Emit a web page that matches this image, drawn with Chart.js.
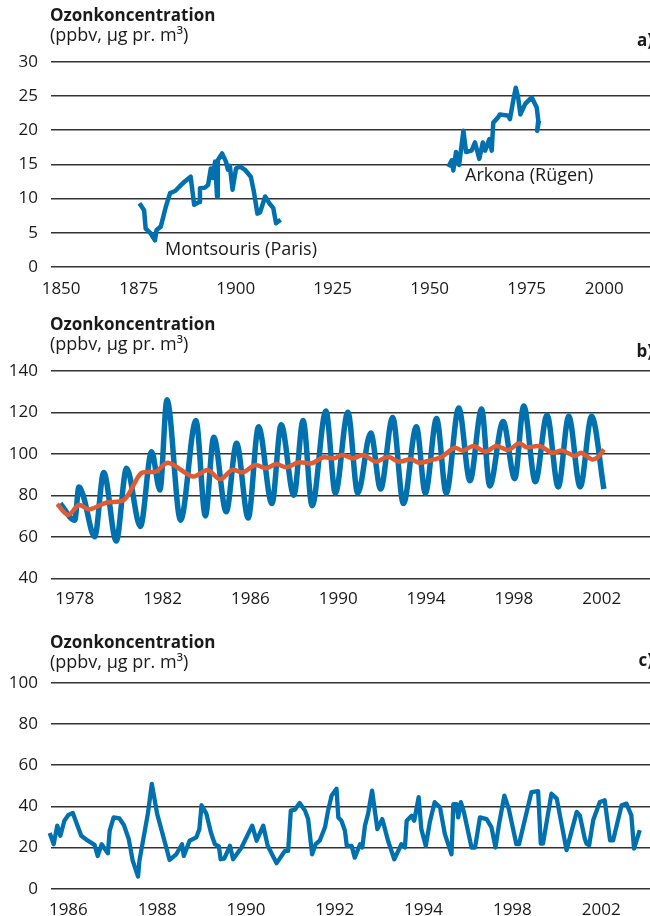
<!DOCTYPE html>
<html>
<head>
<meta charset="utf-8">
<script src="https://cdn.jsdelivr.net/npm/chart.js@4.4.1/dist/chart.umd.min.js"></script>
<style>
  body { margin: 0; background: #fff; width: 650px; height: 916px; position: relative; overflow: hidden;
         font-family: 'Open Sans', sans-serif; color: #1a1a1a; }
  canvas { position: absolute; left: 0; }
  .t { position: absolute; white-space: nowrap; line-height: 1; }
  .title { left: 50px; font-weight: bold; font-size: 17px; }
  .sub { left: 50px; font-size: 18px; }
  .tag { right: -3px; font-weight: bold; font-size: 17px; }
  .note { font-size: 18px; }
</style>
</head>
<body>
<canvas id="chartA" width="650" height="300" style="top:0"></canvas>
<canvas id="chartB" width="650" height="320" style="top:300px"></canvas>
<canvas id="chartC" width="650" height="296" style="top:620px"></canvas>

<div class="t title" style="top:6px">Ozonkoncentration</div>
<div class="t sub" style="top:25px">(ppbv, µg pr. m³)</div>
<div class="t tag" style="top:31px">a)</div>
<div class="t note" style="left:165px;top:239px">Montsouris (Paris)</div>
<div class="t note" style="left:465px;top:165px">Arkona (Rügen)</div>

<div class="t title" style="top:315px">Ozonkoncentration</div>
<div class="t sub" style="top:334px">(ppbv, µg pr. m³)</div>
<div class="t tag" style="top:342px">b)</div>

<div class="t title" style="top:633px">Ozonkoncentration</div>
<div class="t sub" style="top:652px">(ppbv, µg pr. m³)</div>
<div class="t tag" style="top:651px">c)</div>

<script>
// panel a: long records
const montsourisYears = [1875.2,1876.4,1876.8,1878.1,1879.2,1879.6,1880.7,1882.0,1883.1,1884.4,1885.6,1886.9,1888.4,1889.3,1890.6,1890.8,1892.1,1892.9,1893.6,1894.1,1894.7,1895.2,1895.4,1896.5,1897.5,1898.0,1898.5,1899.2,1900.1,1901.1,1902.4,1903.9,1904.7,1905.6,1906.3,1907.6,1908.7,1909.7,1910.4,1911.6];
const montsourisValues = [9.3,8.3,5.6,4.9,3.9,5.4,5.9,8.8,10.8,11.1,11.8,12.5,13.2,9.1,9.5,11.5,11.6,12.0,14.4,13.0,15.4,10.3,15.6,16.6,15.4,14.2,14.8,11.3,14.4,14.7,14.2,13.2,11.0,7.8,8.0,10.3,9.3,8.6,6.4,6.9];
const arkonaYears = [1954.8,1955.7,1956.1,1956.8,1957.6,1958.7,1959.4,1960.8,1961.7,1962.8,1963.7,1964.3,1965.4,1966.0,1966.4,1967.7,1968.1,1970.3,1970.7,1971.6,1972.2,1972.8,1973.4,1974.6,1976.3,1977.6,1978.0,1977.7,1978.2];
const arkonaValues = [14.6,15.6,14.1,16.8,14.9,19.9,16.8,17.0,18.2,15.8,18.2,17.0,18.7,17.0,21.1,21.9,22.3,22.1,21.6,24.5,26.2,24.8,22.3,23.8,24.8,23.3,21.4,19.9,21.4];
const xTicksA = [1850,1875,1900,1925,1950,1975,2000];

// panel b: seasonal series and running mean
const seasonalYears = [1977.34,1978.0,1978.19,1978.38,1978.91,1979.32,1979.89,1980.36,1980.99,1981.5,1981.88,1982.2,1982.82,1983.52,1983.95,1984.33,1984.9,1985.37,1985.9,1986.37,1986.98,1987.4,1987.98,1988.4,1988.81,1989.44,1989.87,1990.44,1990.89,1991.48,1991.93,1992.48,1992.97,1993.56,1993.97,1994.48,1994.92,1995.49,1996.0,1996.53,1996.9,1997.51,1998.04,1998.45,1998.98,1999.51,2000.02,2000.5,2001.02,2001.54,2002.1];
const seasonalValues = [76,68,84,80,60,91,58,93,65,101,82.5,126,68,116,70,108,72,105,69,113,76,114,80,116,75,120.6,81,120,81,110,83,117.5,76,113,81,117,81,122,87,121.5,84.5,115.5,88,123,86.5,118.6,84,118,84,118,83];
const meanYears = [1977.2,1977.7,1978.19,1978.66,1979.42,1980.27,1981.02,1981.69,1982.25,1983.39,1984.05,1984.62,1985.18,1985.66,1986.22,1986.7,1987.17,1987.64,1988.21,1988.78,1989.34,1989.81,1990.19,1990.67,1991.14,1991.71,1992.27,1992.74,1993.31,1993.69,1994.26,1994.73,1995.3,1995.67,1996.15,1996.71,1997.19,1997.75,1998.23,1998.6,1999.17,1999.74,2000.21,2000.78,2001.06,2001.54,2001.82,2002.1];
const meanValues = [75.8,70.5,75.3,73.2,76.4,78,90.6,91.4,95.7,89,92.2,87.7,92.2,91,94.6,93,95,93.5,95.9,95.4,98.3,97.8,99.4,97.8,99.4,96.2,98.6,96.2,97.3,95.7,97,98.6,102.9,101.5,103.7,101,103.7,101.8,105,103.1,103.7,100.5,101.5,98.9,100.5,97.3,98.3,102.1];
const xTicksB = [1978,1982,1986,1990,1994,1998,2002];

// panel c
const stationYears = [1985.58,1985.67,1985.75,1985.82,1985.91,1986.0,1986.1,1986.29,1986.44,1986.59,
  1986.66,1986.75,1986.89,1986.93,1987.02,1987.15,1987.25,1987.36,1987.45,1987.57,
  1987.6,1987.79,1987.88,1988.0,1988.28,1988.43,1988.56,1988.6,1988.73,1988.88,
  1988.95,1989.0,1989.11,1989.21,1989.3,1989.39,1989.43,1989.51,1989.64,1989.71,
  1989.9,1990.14,1990.24,1990.39,1990.49,1990.69,1990.88,1990.95,1991.01,1991.1,
  1991.21,1991.33,1991.4,1991.49,1991.57,1991.66,1991.78,1991.85,1991.93,1992.04,
  1992.08,1992.15,1992.23,1992.27,1992.38,1992.45,1992.57,1992.62,1992.68,1992.75,
  1992.84,1992.96,1993.07,1993.11,1993.2,1993.34,1993.43,1993.5,1993.58,1993.62,
  1993.73,1993.79,1993.89,1993.95,1994.05,1994.14,1994.25,1994.37,1994.48,1994.63,
  1994.67,1994.74,1994.78,1994.84,1994.91,1995.08,1995.16,1995.27,1995.42,1995.53,
  1995.62,1995.7,1995.82,1995.92,1996.09,1996.15,1996.43,1996.58,1996.64,1996.69,
  1996.88,1997.0,1997.22,1997.45,1997.52,1997.63,1997.67,1997.73,1997.82,1997.97,
  1998.08,1998.2,1998.27,1998.46,1998.57,1998.68,1998.74,1998.87];
const stationValues = [27.0,21.6,30.6,25.7,33.0,35.8,36.7,25.7,23.3,21.3,
  15.9,21.6,17.2,28.1,34.6,34.1,30.9,24.1,13.5,5.9,
  13.5,36.3,50.9,36.3,14.0,16.7,21.6,15.9,23.3,24.9,
  28.9,40.5,36.3,27.3,21.6,20.5,14.3,14.6,20.8,14.3,
  20.0,30.6,23.3,30.6,20.8,12.4,18.4,18.4,37.9,38.4,
  41.6,37.9,33.8,16.7,21.6,23.3,29.8,37.9,45.2,48.5,
  34.6,33.0,28.1,20.8,20.8,15.1,21.6,20.0,30.6,36.3,
  47.6,28.9,33.8,30.6,23.3,14.3,18.4,21.6,20.0,33.0,
  35.4,33.0,44.4,28.9,20.8,32.2,42.0,39.5,26.5,16.7,
  41.1,41.1,34.6,42.0,37.1,20.0,20.0,34.6,33.8,29.8,
  20.0,31.4,45.2,38.7,21.6,21.6,46.9,47.4,21.9,21.9,
  46.1,43.7,18.7,37.3,35.6,24.4,21.9,21.1,33.2,42.1,
  42.9,23.5,23.5,40.5,41.3,35.6,19.5,28.4];
const xTicksC = [1986,1988,1990,1992,1994,1996,1998];
const xLabelsC = ['1986','1988','1990','1992','1994','1998','2002'];

const BLUE = '#0071ae';
const ORANGE = '#e05a32';

Chart.defaults.font.family = "'Open Sans', sans-serif";
Chart.defaults.font.size = 17;
Chart.defaults.color = '#1a1a1a';

function points(xs, ys) {
  return xs.map((x, i) => ({ x: x, y: ys[i] }));
}

function panel(id, datasets, o) {
  return new Chart(document.getElementById(id), {
    type: 'line',
    data: { datasets: datasets },
    options: {
      responsive: false,
      animation: false,
      layout: { padding: { top: o.top, left: 0, right: 0, bottom: 0 } },
      plugins: { legend: { display: false }, tooltip: { enabled: false } },
      elements: { point: { radius: 0 } },
      scales: {
        x: {
          type: 'linear',
          min: o.xMin,
          max: o.xMax,
          grid: { display: false },
          border: { display: false },
          afterFit: s => { s.height = o.xAxisH; },
          afterBuildTicks: s => { s.ticks = o.xTicks.map(v => ({ value: v })); },
          ticks: {
            autoSkip: false,
            maxRotation: 0,
            padding: o.xPad,
            align: o.xAlign || 'center',
            callback: o.xLabel || (v => String(v))
          }
        },
        y: {
          min: o.yMin,
          max: o.yMax,
          ticks: { stepSize: o.yStep, padding: 12.6 },
          grid: { color: '#333', lineWidth: 1.4, drawTicks: false },
          border: { display: false },
          afterFit: s => { s.width = 50.6; }
        }
      }
    }
  });
}

panel('chartA', [
  { data: points(montsourisYears, montsourisValues), borderColor: BLUE, borderWidth: 4.5, tension: 0, borderJoinStyle: 'round' },
  { data: points(arkonaYears, arkonaValues), borderColor: BLUE, borderWidth: 4.5, tension: 0, borderJoinStyle: 'round' }
], { top: 61.7, xAxisH: 33, xPad: 3.5, xMin: 1852.3, xMax: 2006.8, xTicks: xTicksA, xAlign: 'inner',
     yMin: 0, yMax: 30, yStep: 5 });

panel('chartB', [
  { data: points(meanYears, meanValues), borderColor: ORANGE, borderWidth: 4.5, tension: 0.3 },
  { data: points(seasonalYears, seasonalValues), borderColor: BLUE, borderWidth: 5.5, cubicInterpolationMode: 'monotone' }
], { top: 70.7, xAxisH: 41.7, xPad: 3, xMin: 1976.9, xMax: 2004.2, xTicks: xTicksB,
     yMin: 40, yMax: 140, yStep: 20 });

panel('chartC', [
  { data: points(stationYears, stationValues), borderColor: BLUE, borderWidth: 4.3, tension: 0, borderJoinStyle: 'round', clip: 4 }
], { top: 62.7, xAxisH: 27.3, xPad: 3.5, xMin: 1985.6, xMax: 1999.1, xTicks: xTicksC,
     xLabel: (v, i) => xLabelsC[i], yMin: 0, yMax: 100, yStep: 20 });
</script>
</body>
</html>
